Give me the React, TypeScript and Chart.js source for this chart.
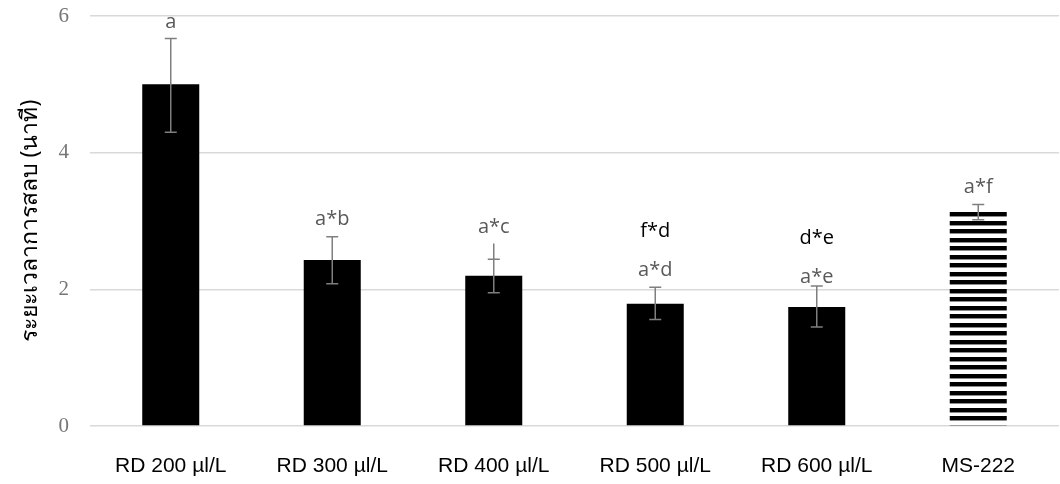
import React, { useEffect, useRef } from "react";
import { Chart, registerables } from "chart.js";

Chart.register(...registerables);

const categories = ["RD 200 µl/L", "RD 300 µl/L", "RD 400 µl/L", "RD 500 µl/L", "RD 600 µl/L", "MS-222"];
const meanValues = [5.0, 2.43, 2.2, 1.79, 1.74, 3.14];
const errorUpper = [5.67, 2.77, 2.67, 2.03, 2.05, 3.24];
const capUpper = [5.67, 2.77, 2.44, 2.03, 2.05, 3.24];
const errorLower = [4.3, 2.08, 1.95, 1.56, 1.45, 3.02];
const letterLabels = ["a", "a*b", "a*c", "a*d", "a*e", "a*f"];
const letterY = [5.83, 2.94, 2.83, 2.19, 2.1, 3.41];
const extraLabels = ["", "", "", "f*d", "d*e", ""];
const extraY = [0, 0, 0, 2.76, 2.66, 0];
const yTicks = [0, 2, 4, 6];
const yTitle = "ระยะเวลาการสลบ (นาที)";

function makeStripes(): CanvasPattern | string {
  const c = document.createElement("canvas");
  c.width = 8;
  c.height = 17;
  const g = c.getContext("2d");
  if (!g) return "#000";
  g.fillStyle = "#ffffff";
  g.fillRect(0, 0, 8, 17);
  g.fillStyle = "#000000";
  g.fillRect(0, 0, 8, 4);
  g.fillRect(0, 8, 8, 4);
  g.fillStyle = "#8c8c8c";
  g.fillRect(0, 4, 8, 1);
  g.fillRect(0, 12, 8, 1);
  const p = g.createPattern(c, "repeat");
  return p || "#000";
}

const overlayPlugin = {
  id: "overlay",
  afterDatasetsDraw(chart: any) {
    const ctx = chart.ctx;
    const ys = chart.scales.y;
    const meta = chart.getDatasetMeta(0);
    ctx.save();
    meta.data.forEach((bar: any, i: number) => {
      const cx = bar.x;
      const yTop = ys.getPixelForValue(errorUpper[i]);
      const yCap = ys.getPixelForValue(capUpper[i]);
      const yLow = ys.getPixelForValue(errorLower[i]);
      ctx.strokeStyle = "#7f7f7f";
      ctx.lineWidth = 1.5;
      ctx.beginPath();
      ctx.moveTo(cx, yTop);
      ctx.lineTo(cx, yLow);
      ctx.moveTo(cx - 6, yCap);
      ctx.lineTo(cx + 6, yCap);
      ctx.moveTo(cx - 6, yLow);
      ctx.lineTo(cx + 6, yLow);
      ctx.stroke();

      ctx.textAlign = "center";
      ctx.textBaseline = "alphabetic";
      ctx.font = "20px 'Open Sans', sans-serif";
      ctx.fillStyle = "#595959";
      ctx.fillText(letterLabels[i], cx, ys.getPixelForValue(letterY[i]));
      if (extraLabels[i]) {
        ctx.fillStyle = "#000000";
        ctx.fillText(extraLabels[i], cx, ys.getPixelForValue(extraY[i]));
      }
    });
    ctx.restore();
  },
  afterDraw(chart: any) {
    const ctx = chart.ctx;
    const ca = chart.chartArea;
    ctx.save();
    ctx.translate(30, (ca.top + ca.bottom) / 2);
    ctx.rotate(-Math.PI / 2);
    ctx.textAlign = "center";
    ctx.textBaseline = "middle";
    ctx.fillStyle = "#000000";
    ctx.font = "23px 'Noto Sans', sans-serif";
    ctx.fillText(yTitle, 0, 0);
    ctx.restore();
  },
};

export default function App() {
  const ref = useRef<HTMLCanvasElement | null>(null);

  useEffect(() => {
    if (!ref.current) return;
    const stripes = makeStripes();
    const colors = meanValues.map((_, i) => (i === meanValues.length - 1 ? stripes : "#000000"));
    const chart = new Chart(ref.current, {
      type: "bar",
      data: {
        labels: categories,
        datasets: [
          {
            data: meanValues,
            backgroundColor: colors as any,
            borderWidth: 0,
            barPercentage: 0.353,
            categoryPercentage: 1,
          },
        ],
      },
      options: {
        responsive: false,
        animation: false,
        layout: { padding: { top: 16, right: 1, left: 0, bottom: 0 } },
        plugins: { legend: { display: false }, tooltip: { enabled: false }, title: { display: false } },
        scales: {
          x: {
            grid: { display: false, drawTicks: false },
            border: { display: false },
            ticks: {
              color: "#000000",
              padding: 28,
              maxRotation: 0,
              font: { family: "'Liberation Sans', Arial, sans-serif", size: 21 },
            },
            afterFit(scale: any) {
              scale.height = 58;
              scale.paddingLeft = 0;
              scale.paddingRight = 0;
            },
          },
          y: {
            min: 0,
            max: 6,
            grid: { color: "#d9d9d9", lineWidth: 1.5, drawTicks: false },
            border: { display: false },
            ticks: {
              color: "#767676",
              padding: 21,
              font: { family: "'Liberation Serif', 'Times New Roman', serif", size: 21 },
            },
            afterBuildTicks(scale: any) {
              scale.ticks = yTicks.map((v) => ({ value: v }));
            },
            afterFit(scale: any) {
              scale.width = 90;
              scale.paddingTop = 0;
              scale.paddingBottom = 0;
            },
          },
        },
      },
      plugins: [overlayPlugin],
    });
    return () => chart.destroy();
  }, []);

  return (
    <div style={{ position: "absolute", left: 0, top: 0, width: 1060, height: 484, background: "#ffffff" }}>
      <canvas ref={ref} width={1060} height={484} style={{ width: 1060, height: 484 }} />
    </div>
  );
}
